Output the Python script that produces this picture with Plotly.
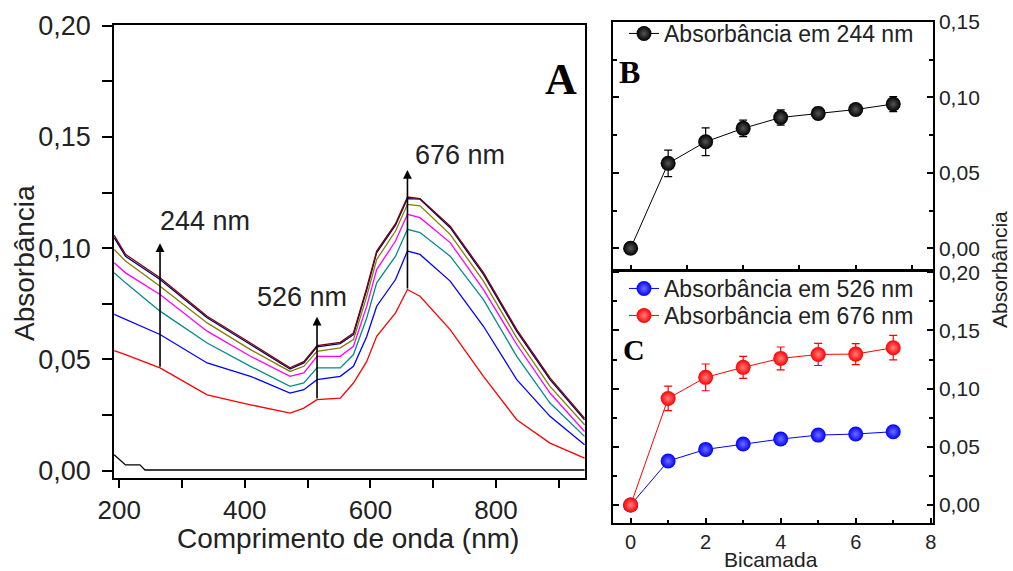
import plotly.graph_objects as go

# ---- Panel A: UV-Vis spectra ----
wavelength = [192, 210, 265, 340, 409, 472, 494, 515, 552, 573, 594, 610, 640, 659, 679, 727, 780, 833, 886, 941]
spec_1 = [0.0540, 0.0522, 0.0462, 0.0341, 0.0296, 0.0259, 0.0281, 0.0319, 0.0326, 0.0394, 0.0490, 0.0604, 0.0709, 0.0814, 0.0784, 0.0634, 0.0424, 0.0229, 0.0124, 0.0056]
spec_2 = [0.0702, 0.0679, 0.0612, 0.0484, 0.0424, 0.0349, 0.0364, 0.0409, 0.0424, 0.0469, 0.0602, 0.0739, 0.0859, 0.0987, 0.0972, 0.0852, 0.0649, 0.0409, 0.0244, 0.0116]
spec_3 = [0.0889, 0.0844, 0.0717, 0.0574, 0.0469, 0.0379, 0.0394, 0.0462, 0.0462, 0.0522, 0.0685, 0.0844, 0.0964, 0.1085, 0.1070, 0.0964, 0.0769, 0.0514, 0.0304, 0.0154]
spec_4 = [0.0934, 0.0889, 0.0792, 0.0627, 0.0514, 0.0424, 0.0439, 0.0514, 0.0514, 0.0559, 0.0737, 0.0904, 0.1032, 0.1152, 0.1137, 0.1025, 0.0814, 0.0567, 0.0349, 0.0176]
spec_5 = [0.0994, 0.0942, 0.0829, 0.0664, 0.0544, 0.0446, 0.0469, 0.0536, 0.0552, 0.0589, 0.0782, 0.0949, 0.1077, 0.1197, 0.1190, 0.1062, 0.0852, 0.0597, 0.0379, 0.0206]
spec_6 = [0.1047, 0.0964, 0.0859, 0.0687, 0.0567, 0.0457, 0.0484, 0.0556, 0.0571, 0.0612, 0.0812, 0.0980, 0.1103, 0.1223, 0.1220, 0.1092, 0.0882, 0.0626, 0.0409, 0.0229]
spec_7 = [0.1058, 0.0972, 0.0867, 0.0694, 0.0574, 0.0462, 0.0490, 0.0562, 0.0577, 0.0619, 0.0820, 0.0987, 0.1110, 0.1230, 0.1223, 0.1099, 0.0890, 0.0634, 0.0417, 0.0236]
base_wl = [192, 202, 210, 233, 241, 941]
base_abs = [0.0071, 0.0048, 0.0026, 0.0026, 0.0003, 0.0003]
spectra = [spec_1, spec_2, spec_3, spec_4, spec_5, spec_6, spec_7]
spec_colors = ["#ff0000", "#0000ff", "#008b8b", "#ff00ff", "#808000", "#000080", "#800000"]

# ---- Panels B and C: absorbance vs bilayer ----
bilayer = [0, 1, 2, 3, 4, 5, 6, 7]
abs_244 = [0.0, 0.0563, 0.0706, 0.0795, 0.0867, 0.0894, 0.0920, 0.0956]
err_244 = [0.0, 0.0088, 0.0092, 0.0055, 0.0050, 0.0040, 0.0030, 0.0050]
abs_526 = [0.0, 0.0378, 0.0478, 0.0524, 0.0567, 0.0601, 0.0610, 0.0630]
err_526 = [0.0, 0.0015, 0.0015, 0.0015, 0.0015, 0.0015, 0.0015, 0.0015]
abs_676 = [0.0, 0.0916, 0.1097, 0.1183, 0.1260, 0.1294, 0.1297, 0.1352]
err_676 = [0.0, 0.0105, 0.0115, 0.0095, 0.0098, 0.0095, 0.0090, 0.0105]

FONT = "Liberation Sans, Arial, sans-serif"
SERIF = "Liberation Serif, Times New Roman, serif"
TXT = "#222222"

W, H = 1013, 571
def px(xp):
    return xp / W
def py(yp):
    return (H - yp) / H

fig = go.Figure()

fig.add_trace(go.Scatter(x=base_wl, y=base_abs, mode="lines",
                         line=dict(color="black", width=1.3), showlegend=False,
                         xaxis="x", yaxis="y"))
for s, c in zip(spectra, spec_colors):
    fig.add_trace(go.Scatter(x=wavelength, y=s, mode="lines",
                             line=dict(color=c, width=1.3), showlegend=False,
                             xaxis="x", yaxis="y"))

fig.add_trace(go.Scatter(x=bilayer, y=abs_244, mode="lines+markers",
                         name="Absorbância em 244 nm",
                         line=dict(color="black", width=1),
                         marker=dict(color="black", size=15,
                                     gradient=dict(type="radial", color="#555555")),
                         error_y=dict(type="data", array=err_244, color="black",
                                      thickness=1.2, width=4),
                         xaxis="x2", yaxis="y2", legend="legend"))
fig.add_trace(go.Scatter(x=bilayer, y=abs_526, mode="lines+markers",
                         name="Absorbância em 526 nm",
                         line=dict(color="#0000ff", width=1),
                         marker=dict(color="#0000ff", size=15,
                                     gradient=dict(type="radial", color="#6f6fff")),
                         error_y=dict(type="data", array=err_526, color="#0000ff",
                                      thickness=1.2, width=4),
                         xaxis="x3", yaxis="y3", legend="legend2"))
fig.add_trace(go.Scatter(x=bilayer, y=abs_676, mode="lines+markers",
                         name="Absorbância em 676 nm",
                         line=dict(color="#ff0000", width=1),
                         marker=dict(color="#ff0000", size=15,
                                     gradient=dict(type="radial", color="#ff8080")),
                         error_y=dict(type="data", array=err_676, color="#ff0000",
                                      thickness=1.2, width=4),
                         xaxis="x3", yaxis="y3", legend="legend3"))

axis_common = dict(showgrid=False, zeroline=False, showline=True, automargin=False,
                   linecolor="black", linewidth=1.5)

left_dom_x = [px(114), px(585)]
left_dom_y = [py(478), py(25)]
right_dom_x = [px(613), px(933)]

legend_style = dict(xanchor="left", yanchor="top", bgcolor="rgba(0,0,0,0)",
                    borderwidth=0, font=dict(size=23, color=TXT, family=FONT))

fig.update_layout(
    width=W, height=H,
    margin=dict(l=0, r=0, t=0, b=0, pad=0, autoexpand=False),
    paper_bgcolor="white", plot_bgcolor="white",
    separators=",.",
    font=dict(family=FONT, color=TXT),
    xaxis=dict(**axis_common, domain=left_dom_x, range=[191.7, 941.7], anchor="y",
               mirror=True, ticks="outside", ticklen=8, tickwidth=1.5, tickcolor="black",
               tick0=200, dtick=200,
               minor=dict(ticks="outside", ticklen=8, tickwidth=1.5, dtick=100, tick0=200,
                          tickcolor="black"),
               tickfont=dict(size=26, color=TXT)),
    xaxis4=dict(overlaying="x", side="top", anchor="y", range=[191.7, 941.7],
                domain=left_dom_x, showgrid=False, zeroline=False, showline=False,
                automargin=False,
                ticks="inside", ticklen=8, tickwidth=1.5, tickcolor="black",
                tick0=200, dtick=100, showticklabels=False),
    yaxis=dict(**axis_common, domain=left_dom_y, range=[-0.0033, 0.2003], anchor="x",
               mirror=True, ticks="outside", ticklen=10, tickwidth=1.5, tickcolor="black",
               tick0=0, dtick=0.05, tickformat=".2f", ticklabelstandoff=6,
               minor=dict(ticks="outside", ticklen=10, tickwidth=1.5, dtick=0.025, tick0=0,
                          tickcolor="black"),
               tickfont=dict(size=27, color=TXT)),
    xaxis2=dict(**axis_common, domain=right_dom_x, range=[-0.47, 8.06], anchor="y2",
                mirror=True, ticks="inside", ticklen=5, tickwidth=1.5, tickcolor="black",
                tick0=0, dtick=1.5, showticklabels=False),
    yaxis2=dict(**axis_common, domain=[py(270), py(21.7)], range=[-0.0144, 0.1502],
                anchor="x2", side="right", mirror="ticks", ticks="inside", ticklen=6,
                tickwidth=1.5, tickcolor="black", tick0=0, dtick=0.05, tickformat=".2f",
                minor=dict(ticks="inside", ticklen=4, tickwidth=1.5, dtick=0.025, tick0=0,
                           tickcolor="black"),
                tickfont=dict(size=21, color=TXT)),
    xaxis3=dict(**axis_common, domain=right_dom_x, range=[-0.47, 8.06], anchor="y3",
                mirror=True, ticks="inside", ticklen=6, tickwidth=1.5, tickcolor="black",
                tick0=0, dtick=2,
                minor=dict(ticks="inside", ticklen=4, tickwidth=1.5, dtick=1, tick0=0,
                           tickcolor="black"),
                tickfont=dict(size=20, color=TXT)),
    yaxis3=dict(**axis_common, domain=[py(523.3), py(271)], range=[-0.0157, 0.2011],
                anchor="x3", side="right", mirror="ticks", ticks="inside", ticklen=6,
                tickwidth=1.5, tickcolor="black", tick0=0, dtick=0.05, tickformat=".2f",
                minor=dict(ticks="inside", ticklen=4, tickwidth=1.5, dtick=0.025, tick0=0,
                           tickcolor="black"),
                tickfont=dict(size=21, color=TXT)),
    legend=dict(x=px(624), y=py(12), **legend_style),
    legend2=dict(x=px(624), y=py(267), **legend_style),
    legend3=dict(x=px(624), y=py(294), **legend_style),
)

ann = []
def note(text, x, y, size, family=FONT, color=TXT, angle=0):
    ann.append(dict(text=text, x=px(x), y=py(y), xref="paper", yref="paper",
                    xanchor="center", yanchor="middle", textangle=angle,
                    showarrow=False, font=dict(size=size, color=color, family=family)))

# axis titles
note("Absorbância", 24, 263, 28, angle=-90)
note("Comprimento de onda (nm)", 348, 538, 28)
note("Absorbância", 999, 270, 21, angle=-90)
note("Bicamada", 771, 559, 21)
# panel letters
note("<b>A</b>", 561, 79, 44, family=SERIF, color="black")
note("<b>B</b>", 629, 72, 32, family=SERIF, color="black")
note("<b>C</b>", 634, 349, 30, family=SERIF, color="black")

# arrows and wavelength labels in panel A
arrows = [(265, 0.046, 0.1022), (515, 0.0318, 0.0692), (659, 0.0812, 0.1351)]
for xa, y0, y1 in arrows:
    ann.append(dict(text="", x=xa, y=y1, ax=xa, ay=y0, xref="x", yref="y",
                    axref="x", ayref="y", showarrow=True, arrowhead=2, arrowsize=1.1,
                    arrowwidth=1.6, arrowcolor="black"))
labels = [("244 nm", 262, 0.1122), ("526 nm", 416, 0.0782), ("676 nm", 668, 0.1419)]
for t, xl, yl in labels:
    ann.append(dict(text=t, x=xl, y=yl, xref="x", yref="y", xanchor="left",
                    yanchor="middle", showarrow=False, font=dict(size=27, color=TXT)))
fig.update_layout(annotations=ann)

fig.write_html("out.html")
